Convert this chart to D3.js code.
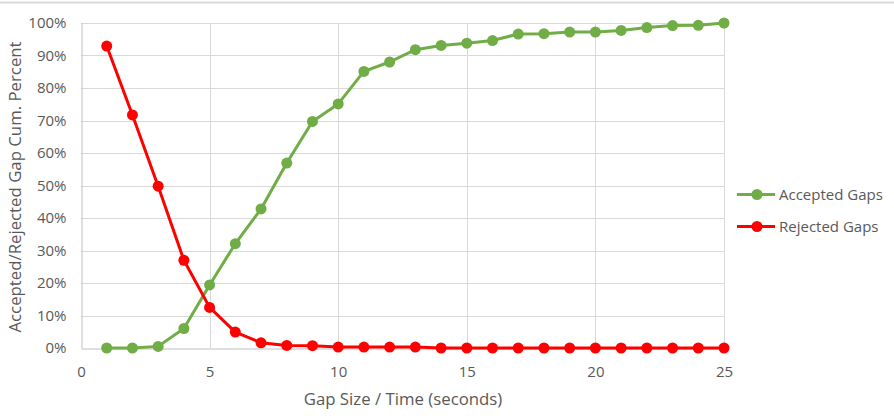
<!DOCTYPE html>
<html><head><meta charset="utf-8">
<script src="https://cdn.jsdelivr.net/npm/d3@7"></script>
<style>body{margin:0;background:#fff}svg{display:block}text{font-family:"Open Sans",sans-serif;fill:#595959}</style>
</head><body>
<script>
const gapSizes = [1,2,3,4,5,6,7,8,9,10,11,12,13,14,15,16,17,18,19,20,21,22,23,24,25];
const acceptedPct = [0,0,0.5,6.0,19.4,32.1,42.8,56.9,69.7,75.1,85.1,88.0,91.8,93.1,93.8,94.6,96.6,96.7,97.2,97.2,97.7,98.6,99.2,99.3,100];
const rejectedPct = [92.9,71.7,49.8,27.0,12.5,4.9,1.6,0.8,0.7,0.3,0.3,0.3,0.3,0,0,0,0,0,0,0,0,0,0,0,0];
const xTicks = [0,5,10,15,20,25];
const yTicks = [0,10,20,30,40,50,60,70,80,90,100];
const seriesNames = ["Accepted Gaps","Rejected Gaps"];
const seriesColors = ["#70AD47","#FF0000"];

const W=894,H=418;
const svg=d3.select("body").append("svg").attr("width",W).attr("height",H);
svg.append("line").attr("x1",0).attr("x2",W).attr("y1",2.5).attr("y2",2.5).attr("stroke","#d9d9d9").attr("stroke-width",2);

const x=d3.scaleLinear().domain([0,25]).range([81,724]);
const y=d3.scaleLinear().domain([0,100]).range([348,23]);

// grid
const g=svg.append("g");
g.selectAll(".hg").data(yTicks.filter(d=>d>0)).join("line")
 .attr("x1",x(0)).attr("x2",x(25)).attr("y1",d=>Math.round(y(d))+0.5).attr("y2",d=>Math.round(y(d))+0.5)
 .attr("stroke","#d9d9d9").attr("stroke-width",1);
g.selectAll(".vg").data(xTicks.filter(d=>d>0)).join("line")
 .attr("x1",d=>Math.round(x(d))+0.5).attr("x2",d=>Math.round(x(d))+0.5).attr("y1",y(0)).attr("y2",y(100))
 .attr("stroke","#d9d9d9").attr("stroke-width",1);

// axes
const xAxis=svg.append("g").attr("transform",`translate(0,${Math.round(y(0))+0.5})`)
 .call(d3.axisBottom(x).tickValues(xTicks).tickSize(0).tickPadding(18));
xAxis.select(".domain").attr("stroke","#bfbfbf");
xAxis.selectAll("text").attr("font-size",15).style("fill","#595959").attr("font-family","Open Sans");
const yAxis=svg.append("g").attr("transform",`translate(${Math.round(x(0))+0.5},0)`)
 .call(d3.axisLeft(y).tickValues(yTicks).tickSize(0).tickPadding(15).tickFormat(d=>d+"%"));
yAxis.select(".domain").attr("stroke","#bfbfbf");
yAxis.selectAll("text").attr("font-size",15).style("fill","#595959").attr("font-family","Open Sans");

// titles
svg.append("text").attr("x",403).attr("y",405).attr("text-anchor","middle").attr("font-size",16.8).text("Gap Size / Time (seconds)");
svg.append("text").attr("transform","translate(21,187) rotate(-90)").attr("text-anchor","middle").attr("font-size",16.8).text("Accepted/Rejected Gap Cum. Percent");

// series
const series=[acceptedPct,rejectedPct];
const line=d3.line().x((d,i)=>x(gapSizes[i])).y(d=>y(d));
series.forEach((vals,si)=>{
  svg.append("path").datum(vals).attr("d",line).attr("fill","none").attr("stroke",seriesColors[si]).attr("stroke-width",3).attr("stroke-linejoin","round");
  svg.append("g").selectAll("circle").data(vals).join("circle")
   .attr("cx",(d,i)=>x(gapSizes[i])).attr("cy",d=>y(d)).attr("r",5.5).attr("fill",seriesColors[si]);
});

// legend
const leg=svg.append("g");
seriesNames.forEach((n,i)=>{
  const ly=194.5+i*32;
  leg.append("line").attr("x1",737).attr("x2",775).attr("y1",ly).attr("y2",ly).attr("stroke",seriesColors[i]).attr("stroke-width",3);
  leg.append("circle").attr("cx",757).attr("cy",ly).attr("r",5.5).attr("fill",seriesColors[i]);
  leg.append("text").attr("x",779).attr("y",ly+5).attr("font-size",15).text(n);
});
</script>
</body></html>
